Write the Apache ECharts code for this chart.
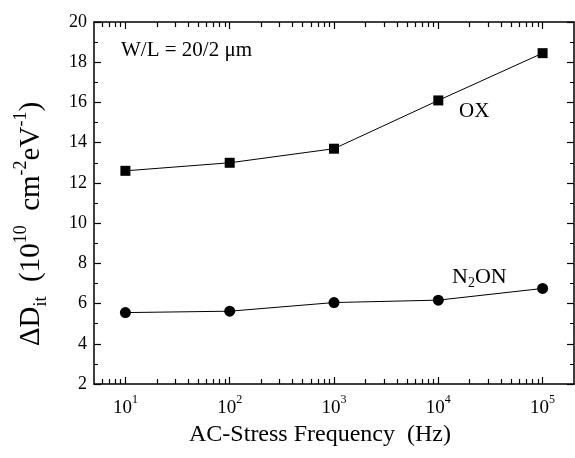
<!DOCTYPE html>
<html>
<head>
<meta charset="utf-8">
<script src="https://cdn.jsdelivr.net/npm/echarts@6/dist/echarts.min.js"></script>
<style>
    html, body { margin: 0; padding: 0; background: #fff; }
    #chart { width: 575px; height: 458px; }
</style>
</head>
<body>
<div id="chart"></div>
<script>
const freqs = [10, 100, 1000, 10000, 100000];
const oxValues = [12.6, 13.0, 13.7, 16.1, 18.45];
const n2onValues = [5.55, 5.62, 6.05, 6.17, 6.75];
const majorTicks = [10, 100, 1000, 10000, 100000];
const yTicks = [2, 4, 6, 8, 10, 12, 14, 16, 18, 20];

(function () {
    let chart = echarts.init(document.querySelector("#chart"));
    const font = 'Liberation Serif';

    function pairs(ys) {
        return freqs.map((f, i) => [f, ys[i]]);
    }

    function supLabel(v) {
        return '{b|10}{s|' + Math.round(Math.log10(v)) + '}';
    }

    // log axis minor ticks land on 2,3,...,9 x 10^n
    const baseX = {
        type: 'log',
        min: 5,
        max: 200000,
        axisLine: { onZero: false, lineStyle: { color: '#000', width: 1.5 } },
        axisTick: { inside: true, length: 7, customValues: majorTicks, lineStyle: { color: '#000', width: 1.2 } },
        minorTick: { show: true, splitNumber: 9, length: 5, lineStyle: { color: '#000', width: 1.2 } },
        splitLine: { show: false },
        minorSplitLine: { show: false }
    };

    let option = {
        animation: false,
        grid: { left: 94, right: 1, top: 22, bottom: 74, containLabel: false },
        xAxis: [
            Object.assign({}, baseX, {
                position: 'bottom',
                name: 'AC-Stress Frequency  (Hz)',
                nameLocation: 'middle',
                nameGap: 22,
                nameTextStyle: { fontFamily: font, fontSize: 24, color: '#000', padding: [0, 28, 0, 0] },
                axisLabel: {
                    customValues: majorTicks,
                    margin: 10,
                    formatter: supLabel,
                    rich: {
                        b: { fontFamily: font, fontSize: 19, color: '#000', lineHeight: 24, verticalAlign: 'bottom' },
                        s: { fontFamily: font, fontSize: 12, color: '#000', lineHeight: 24, verticalAlign: 'top' }
                    }
                }
            }),
            Object.assign({}, baseX, {
                position: 'top',
                axisLabel: { show: false }
            })
        ],
        yAxis: [
            {
                type: 'value',
                position: 'left',
                min: 2,
                max: 20,
                interval: 2,
                name: '{a|ΔD}{sub|it}{a|  (10}{sup|10}{a|  cm}{sup|-2}{a|eV}{sup|-1}{a|)}',
                nameLocation: 'middle',
                nameGap: 44,
                nameRotate: 90,
                nameTextStyle: {
                    padding: [0, 42, 0, 0],
                    rich: {
                        a: { fontFamily: font, fontSize: 29, color: '#000', lineHeight: 38 },
                        sub: { fontFamily: font, fontSize: 18, color: '#000', lineHeight: 38, verticalAlign: 'bottom' },
                        sup: { fontFamily: font, fontSize: 18, color: '#000', lineHeight: 38, verticalAlign: 'top' }
                    }
                },
                axisLine: { show: true, lineStyle: { color: '#000', width: 1.5 } },
                axisTick: { inside: true, length: 7, lineStyle: { color: '#000', width: 1.2 } },
                minorTick: { show: true, splitNumber: 2, length: 4, lineStyle: { color: '#000', width: 1 } },
                splitLine: { show: false },
                axisLabel: {
                    margin: 7,
                    fontFamily: font,
                    fontSize: 18,
                    color: '#000',
                    formatter: v => (yTicks.indexOf(v) >= 0 ? String(v) : '')
                }
            },
            {
                type: 'value',
                position: 'right',
                min: 2,
                max: 20,
                interval: 2,
                axisLine: { show: true, lineStyle: { color: '#000', width: 1.5 } },
                axisTick: { inside: true, length: 7, lineStyle: { color: '#000', width: 1.2 } },
                minorTick: { show: true, splitNumber: 2, length: 4, lineStyle: { color: '#000', width: 1 } },
                splitLine: { show: false },
                axisLabel: { show: false }
            }
        ],
        series: [
            {
                name: 'OX',
                type: 'line',
                data: pairs(oxValues),
                symbol: 'rect',
                symbolSize: 10,
                itemStyle: { color: '#000' },
                lineStyle: { color: '#000', width: 1 }
            },
            {
                name: 'N2ON',
                type: 'line',
                data: pairs(n2onValues),
                symbol: 'circle',
                symbolSize: 11,
                itemStyle: { color: '#000' },
                lineStyle: { color: '#000', width: 1 }
            }
        ],
        graphic: [
            {
                type: 'text',
                left: 121,
                top: 40,
                style: { text: 'W/L = 20/2 μm', font: '21px "Liberation Serif"', fill: '#000' }
            },
            {
                type: 'text',
                left: 459,
                top: 101,
                style: { text: 'OX', font: '21px "Liberation Serif"', fill: '#000' }
            },
            {
                type: 'text',
                left: 452,
                top: 266,
                style: {
                    text: '{a|N}{s|2}{a|ON}',
                    rich: {
                        a: { fontFamily: font, fontSize: 22, fill: '#000', lineHeight: 26 },
                        s: { fontFamily: font, fontSize: 14, fill: '#000', lineHeight: 26, verticalAlign: 'bottom' }
                    }
                }
            }
        ]
    };

    chart.setOption(option);
})();
</script>
</body>
</html>
